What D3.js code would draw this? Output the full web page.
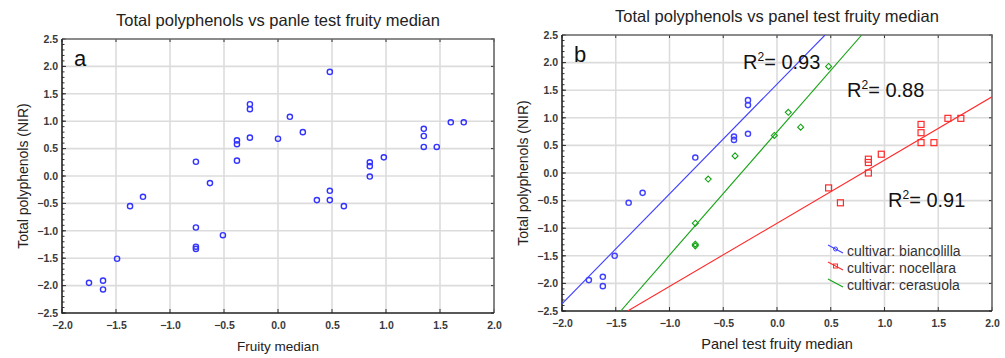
<!DOCTYPE html>
<html>
<head>
<meta charset="utf-8">
<script src="https://cdn.jsdelivr.net/npm/d3@7"></script>
<style>
  body { margin: 0; background: #fff; }
  svg text { font-family: "Liberation Sans", Arial, sans-serif; }
</style>
</head>
<body>
<div id="chart-area"></div>
<script>
// panel a: all samples
var aX = [0.48, -0.26, -0.26, 0.11, 0.23, -0.26, 0.0, -0.38, -0.38, -0.38, -0.76, 0.85, 0.85, 0.85, 0.98,
          1.35, 1.35, 1.35, 1.47, 1.6, 1.72, 0.48, 0.36, 0.48, 0.61, -0.63, -1.25, -1.37, -0.76, -0.51,
          -0.76, -0.76, -1.49, -1.75, -1.62, -1.62];
var aY = [1.9, 1.31, 1.22, 1.08, 0.8, 0.7, 0.68, 0.65, 0.58, 0.28, 0.26, 0.25, 0.18, -0.01, 0.34,
          0.86, 0.73, 0.53, 0.53, 0.98, 0.98, -0.27, -0.44, -0.44, -0.55, -0.13, -0.38, -0.55, -0.94, -1.08,
          -1.29, -1.33, -1.51, -1.95, -1.91, -2.07];

// panel b: by cultivar
var biancoX = [-0.27, -0.27, -0.27, -0.4, -0.4, -0.76, -1.25, -1.38, -1.51, -1.75, -1.62, -1.62];
var biancoY = [1.32, 1.23, 0.71, 0.66, 0.6, 0.28, -0.36, -0.54, -1.5, -1.94, -1.88, -2.05];
var noceX = [0.85, 0.85, 0.85, 0.97, 1.34, 1.34, 1.34, 1.46, 1.59, 1.71, 0.48, 0.59];
var noceY = [0.25, 0.19, 0.0, 0.34, 0.88, 0.73, 0.55, 0.55, 0.99, 0.99, -0.27, -0.54];
var ceraX = [0.48, 0.105, 0.22, -0.025, -0.39, -0.64, -0.76, -0.76, -0.76];
var ceraY = [1.93, 1.1, 0.83, 0.68, 0.31, -0.11, -0.91, -1.29, -1.32];

// fitted lines: [x0, y0, x1, y1]
var biancoFit = [-2.0, -2.37, 0.447, 2.5];
var noceFit = [-1.389, -2.5, 2.0, 1.38];
var ceraFit = [-1.454, -2.5, 0.788, 2.5];

var r2Labels = ["0.93", "0.88", "0.91"];
var legendNames = ["cultivar: biancolilla", "cultivar: nocellara", "cultivar: cerasuola"];
var tickVals = [-2.0, -1.5, -1.0, -0.5, 0.0, 0.5, 1.0, 1.5, 2.0, 2.5];

var svg = d3.select("#chart-area").append("svg")
    .attr("width", 1005)
    .attr("height", 358);

var fmt = d3.format(".1f");

function panel(opts) {
    var x = d3.scaleLinear().domain([-2, 2]).range([opts.left, opts.right]);
    var y = d3.scaleLinear().domain([-2.5, 2.5]).range([opts.bottom, opts.top]);
    var g = svg.append("g");

    g.append("clipPath").attr("id", opts.id + "-clip")
      .append("rect")
        .attr("x", opts.left).attr("y", opts.top)
        .attr("width", opts.right - opts.left).attr("height", opts.bottom - opts.top);

    // grid
    var xt = tickVals.filter(function(d){ return d <= 2; });
    g.selectAll(".vgrid").data(xt.slice(1, -1)).enter().append("line")
        .attr("x1", function(d){ return x(d); }).attr("x2", function(d){ return x(d); })
        .attr("y1", opts.top).attr("y2", opts.bottom)
        .attr("stroke", "#dcdcdc").attr("stroke-width", 1.6);
    var yt = [-2.5].concat(tickVals);
    g.selectAll(".hgrid").data(yt.slice(1, -1)).enter().append("line")
        .attr("y1", function(d){ return y(d); }).attr("y2", function(d){ return y(d); })
        .attr("x1", opts.left).attr("x2", opts.right)
        .attr("stroke", "#dcdcdc").attr("stroke-width", 1.6);

    // axes
    var bottomAxis = d3.axisBottom(x).tickValues(xt).tickFormat(fmt).tickSize(0).tickPadding(9);
    var ax = g.append("g").attr("transform", "translate(0," + opts.bottom + ")").call(bottomAxis);
    ax.select(".domain").remove();
    ax.selectAll("text").attr("font-size", "10.5px").attr("fill", "#3a3a3a").attr("font-weight", "bold");

    var leftAxis = d3.axisLeft(y).tickValues(yt).tickFormat(fmt).tickSize(0).tickPadding(4);
    var ay = g.append("g").attr("transform", "translate(" + opts.left + ",0)").call(leftAxis);
    ay.select(".domain").remove();
    ay.selectAll("text").attr("font-size", "10.5px").attr("fill", "#3a3a3a").attr("font-weight", "bold");

    // minor ticks on left axis
    var minor = d3.range(-2.5, 2.5001, 0.1);
    g.selectAll(".minor").data(minor).enter().append("line")
        .attr("x1", opts.left).attr("x2", opts.left + 2.5)
        .attr("y1", function(d){ return y(d); }).attr("y2", function(d){ return y(d); })
        .attr("stroke", "#333").attr("stroke-width", 1);
    // major inward ticks
    g.selectAll(".tb").data(xt).enter().append("line")
        .attr("x1", function(d){ return x(d); }).attr("x2", function(d){ return x(d); })
        .attr("y1", opts.bottom).attr("y2", opts.bottom - 4)
        .attr("stroke", "#333");
    g.selectAll(".tt").data(xt).enter().append("line")
        .attr("x1", function(d){ return x(d); }).attr("x2", function(d){ return x(d); })
        .attr("y1", opts.top).attr("y2", opts.top + 3)
        .attr("stroke", "#333");
    g.selectAll(".tr").data(yt).enter().append("line")
        .attr("y1", function(d){ return y(d); }).attr("y2", function(d){ return y(d); })
        .attr("x1", opts.right).attr("x2", opts.right - 3)
        .attr("stroke", "#333");
    g.selectAll(".tl").data(yt).enter().append("line")
        .attr("y1", function(d){ return y(d); }).attr("y2", function(d){ return y(d); })
        .attr("x1", opts.left).attr("x2", opts.left + 4)
        .attr("stroke", "#333");

    // frame
    g.append("path")
        .attr("d", "M" + opts.left + "," + opts.top + "H" + opts.right + "V" + opts.bottom)
        .attr("fill", "none").attr("stroke", "#666").attr("stroke-width", 1.6);
    g.append("path")
        .attr("d", "M" + opts.left + "," + opts.top + "V" + opts.bottom + "H" + opts.right)
        .attr("fill", "none").attr("stroke", "#222").attr("stroke-width", 1.6);

    // titles
    g.append("text")
        .attr("x", (opts.left + opts.right) / 2).attr("y", opts.titleY)
        .attr("text-anchor", "middle").attr("font-size", "16.5px").attr("fill", "#222")
        .text(opts.title);
    g.append("text")
        .attr("x", (opts.left + opts.right) / 2).attr("y", opts.xLabelY)
        .attr("text-anchor", "middle").attr("font-size", opts.xLabelSize).attr("fill", "#222")
        .text(opts.xLabel);
    g.append("text")
        .attr("transform", "translate(" + opts.yLabelX + "," + ((opts.top + opts.bottom) / 2) + ") rotate(-90)")
        .attr("text-anchor", "middle").attr("font-size", "14px").attr("fill", "#222")
        .text("Total polyphenols (NIR)");
    g.append("text")
        .attr("x", opts.left + 12).attr("y", opts.top + 27)
        .attr("font-family", "Open Sans").attr("font-size", "22px").attr("fill", "#111")
        .text(opts.letter);

    return {x: x, y: y, g: g};
}

function circles(p, xs, ys, color) {
    p.g.append("g").selectAll("circle").data(xs).enter().append("circle")
        .attr("cx", function(d){ return p.x(d); })
        .attr("cy", function(d, i){ return p.y(ys[i]); })
        .attr("r", 2.6)
        .attr("fill", "none").attr("stroke", color).attr("stroke-width", 1.4);
}
function squares(p, xs, ys, color) {
    p.g.append("g").selectAll("rect").data(xs).enter().append("rect")
        .attr("x", function(d){ return p.x(d) - 3; })
        .attr("y", function(d, i){ return p.y(ys[i]) - 3; })
        .attr("width", 6).attr("height", 6)
        .attr("fill", "none").attr("stroke", color).attr("stroke-width", 1.2);
}
function diamonds(p, xs, ys, color) {
    p.g.append("g").selectAll("path").data(xs).enter().append("path")
        .attr("d", function(d, i){
            var cx = p.x(d), cy = p.y(ys[i]);
            return "M" + cx + "," + (cy - 3) + "L" + (cx + 3) + "," + cy + "L" + cx + "," + (cy + 3) + "L" + (cx - 3) + "," + cy + "Z";
        })
        .attr("fill", "none").attr("stroke", color).attr("stroke-width", 1.1);
}
function fitLine(p, f, color, id) {
    p.g.append("line")
        .attr("clip-path", "url(#" + id + "-clip)")
        .attr("x1", p.x(f[0])).attr("y1", p.y(f[1]))
        .attr("x2", p.x(f[2])).attr("y2", p.y(f[3]))
        .attr("stroke", color).attr("stroke-width", 1.1);
}

var pa = panel({id: "pa", left: 62, right: 494, top: 39, bottom: 313, titleY: 26,
    xLabelY: 351, xLabelSize: "13.5px", yLabelX: 28, letter: "a",
    title: "Total polyphenols vs panle test fruity median", xLabel: "Fruity median"});
circles(pa, aX, aY, "#3333ff");

var pb = panel({id: "pb", left: 562, right: 992, top: 35, bottom: 311, titleY: 22,
    xLabelY: 349, xLabelSize: "14.5px", yLabelX: 528, letter: "b",
    title: "Total polyphenols vs panel test fruity median", xLabel: "Panel test fruity median"});

var blue = "#4040ff", red = "#ff2a2a", green = "#13a313";
fitLine(pb, biancoFit, blue, "pb");
fitLine(pb, noceFit, red, "pb");
fitLine(pb, ceraFit, green, "pb");
circles(pb, biancoX, biancoY, blue);
squares(pb, noceX, noceY, red);
diamonds(pb, ceraX, ceraY, green);

// R squared labels
var r2Pos = [[743, 69], [847, 97], [888, 207]];
r2Labels.forEach(function(v, i) {
    var t = svg.append("text")
        .attr("x", r2Pos[i][0]).attr("y", r2Pos[i][1])
        .attr("font-family", "Open Sans").attr("font-size", "20px").attr("fill", "#111");
    t.append("tspan").text("R");
    t.append("tspan").attr("font-size", "12px").attr("dy", -8).text("2");
    t.append("tspan").attr("dy", 8).text("= " + v);
});

// legend
var legColors = [blue, red, green];
var legend = svg.append("g").attr("transform", "translate(828,245)");
legendNames.forEach(function(name, i) {
    var row = legend.append("g").attr("transform", "translate(0," + (i * 17) + ")");
    row.append("line").attr("x1", 0).attr("y1", 0).attr("x2", 15).attr("y2", 8)
        .attr("stroke", legColors[i]).attr("stroke-width", 1.1);
    if (i == 0) {
        row.append("circle").attr("cx", 7.5).attr("cy", 4).attr("r", 2)
            .attr("fill", "none").attr("stroke", blue);
    } else if (i == 1) {
        row.append("rect").attr("x", 5.5).attr("y", 2).attr("width", 4).attr("height", 4)
            .attr("fill", "none").attr("stroke", red);
    }
    row.append("text").attr("x", 19).attr("y", 11)
        .attr("font-size", "14px").attr("fill", "#333")
        .text(name);
});
</script>
</body>
</html>
